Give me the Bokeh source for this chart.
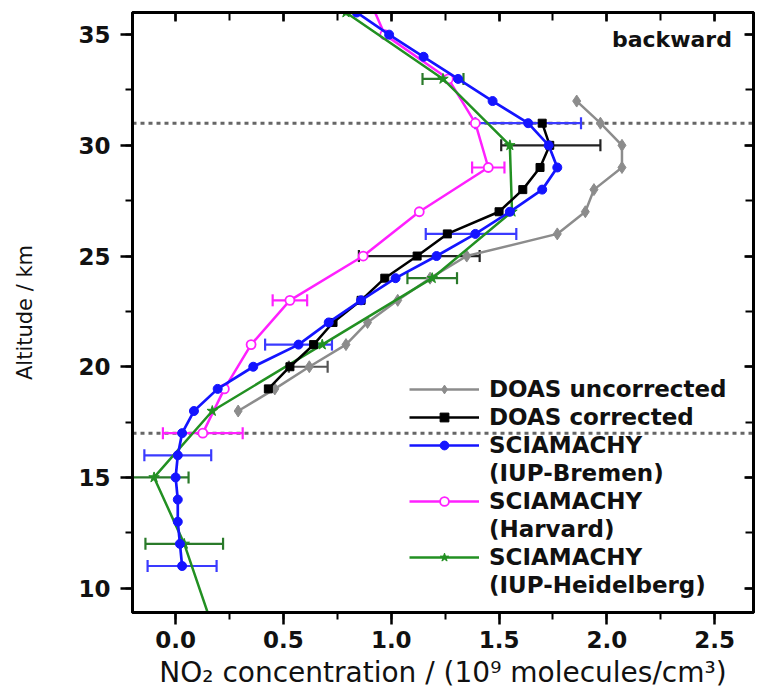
from bokeh.plotting import figure
from bokeh.models import (ColumnDataSource, Whisker, TeeHead, Span, Label, Legend, LegendItem,
                          LinearAxis, SingleIntervalTicker, NumeralTickFormatter,
                          CustomJSTickFormatter, Range1d)
from bokeh.embed import file_html
from bokeh.resources import INLINE

# ---------------- data ----------------
gray_alt = [18, 19, 20, 21, 22, 23, 24, 25, 26, 27, 28, 29, 30, 31, 32]
gray_no2 = [0.29, 0.46, 0.62, 0.79, 0.89, 1.03, 1.18, 1.35, 1.77, 1.90, 1.94, 2.07, 2.07, 1.97, 1.86]
gray_err_alt = [20]
gray_err_val = [0.615]
gray_err = [0.09]

black_alt = [19, 20, 21, 22, 23, 24, 25, 26, 27, 28, 29, 30, 31]
black_no2 = [0.43, 0.53, 0.64, 0.73, 0.86, 0.97, 1.12, 1.26, 1.50, 1.61, 1.69, 1.735, 1.70]
black_err_alt = [25, 30]
black_err_val = [1.13, 1.74]
black_err = [0.28, 0.23]

blue_alt = [11, 12, 13, 14, 15, 16, 17, 18, 19, 20, 21, 22, 23, 24, 25, 26, 27, 28, 29, 30,
            31, 32, 33, 34, 35, 36]
blue_no2 = [0.03, 0.02, 0.01, 0.01, 0.00, 0.01, 0.03, 0.085, 0.195, 0.36, 0.57, 0.71, 0.86,
            1.02, 1.21, 1.39, 1.55, 1.70, 1.77, 1.73, 1.635, 1.47, 1.31, 1.15, 0.99, 0.84]
blue_err_alt = [11, 16, 21, 26, 31]
blue_err_val = [0.03, 0.01, 0.57, 1.37, 1.635]
blue_err = [0.16, 0.155, 0.155, 0.21, 0.245]

mag_alt = [17, 19, 21, 23, 25, 27, 29, 31, 33, 35, 37]
mag_no2 = [0.126, 0.226, 0.35, 0.53, 0.87, 1.13, 1.45, 1.39, 1.265, 0.97, 0.88]
mag_err_alt = [17, 23, 29]
mag_err_val = [0.126, 0.53, 1.45]
mag_err = [0.185, 0.08, 0.075]

green_alt = [8, 12, 15, 18, 21, 24, 27, 30, 33, 36]
green_no2 = [0.18, 0.04, -0.10, 0.17, 0.68, 1.19, 1.56, 1.55, 1.24, 0.79]
green_err_alt = [12, 15, 24, 33]
green_err_val = [0.04, -0.10, 1.19, 1.24]
green_err = [0.18, 0.16, 0.115, 0.095]

ref_levels = [31, 17]

x_label = "NO\u2082 concentration / (10\u2079 molecules/cm\u00b3)"
y_label = "Altitude / km"
panel_text = "backward"

legend_labels = ["DOAS uncorrected", "DOAS corrected", "SCIAMACHY", "(IUP-Bremen)",
                 "SCIAMACHY", "(Harvard)", "SCIAMACHY", "(IUP-Heidelberg)"]

# ---------------- figure ----------------
FONT = "DejaVu Sans"

p = figure(width=760, height=696, x_range=Range1d(-0.2, 2.68), y_range=Range1d(8.9, 36.0),
           output_backend="svg", toolbar_location=None)
p.min_border_left = 132
p.min_border_right = 7
p.min_border_top = 12
p.min_border_bottom = 84
p.grid.visible = False
p.background_fill_color = "white"
p.border_fill_color = "white"
p.outline_line_color = "black"
p.outline_line_width = 3

xa = p.xaxis[0]
xa.ticker = SingleIntervalTicker(interval=0.5, num_minor_ticks=2)
xa.formatter = NumeralTickFormatter(format="0.0")
ya = p.yaxis[0]
ya.ticker = SingleIntervalTicker(interval=5, num_minor_ticks=2)

for ax in (xa, ya):
    ax.axis_line_width = 3
    ax.major_tick_line_width = 2.5
    ax.minor_tick_line_width = 2
    ax.major_tick_in = 0
    ax.minor_tick_in = 0
    ax.major_tick_out = 12
    ax.minor_tick_out = 7
    ax.major_label_text_font = FONT
    ax.major_label_text_font_style = "bold"
    ax.major_label_text_font_size = "23px"
    ax.major_label_text_color = "#111111"
    ax.axis_label_text_font = FONT
    ax.axis_label_text_font_style = "normal"
    ax.axis_label_text_color = "#111111"

xa.axis_label = x_label
xa.axis_label_text_font_size = "28px"
xa.major_label_standoff = 6
xa.axis_label_standoff = 5
ya.axis_label = y_label
ya.axis_label_text_font_size = "21px"
ya.major_label_standoff = 10
ya.axis_label_standoff = 38

top_ax = LinearAxis(ticker=SingleIntervalTicker(interval=0.5, num_minor_ticks=2),
                    formatter=CustomJSTickFormatter(code="return ''"))
right_ax = LinearAxis(ticker=SingleIntervalTicker(interval=5, num_minor_ticks=2),
                      formatter=CustomJSTickFormatter(code="return ''"))
for ax in (top_ax, right_ax):
    ax.axis_line_width = 3
    ax.major_tick_in = 9
    ax.major_tick_out = 0
    ax.minor_tick_in = 8
    ax.minor_tick_out = 0
    ax.major_tick_line_width = 2.5
    ax.minor_tick_line_width = 2
    ax.major_label_standoff = 0
    ax.major_label_text_color = None
    ax.major_label_text_font_size = "1px"
p.add_layout(top_ax, "above")
p.add_layout(right_ax, "right")

for lvl in ref_levels:
    p.add_layout(Span(location=lvl, dimension="width", line_color="#666666",
                      line_width=3, line_dash="4 4", level="underlay"))

# ---------------- series ----------------
def err_source(alt, val, err):
    return ColumnDataSource(dict(y=alt, lower=[v - e for v, e in zip(val, err)],
                                 upper=[v + e for v, e in zip(val, err)]))

def add_err(alt, val, err, color):
    src = err_source(alt, val, err)
    w = Whisker(source=src, base="y", lower="lower", upper="upper", dimension="width",
                line_color=color, line_width=2.2,
                lower_head=TeeHead(size=12, line_color=color, line_width=2.2),
                upper_head=TeeHead(size=12, line_color=color, line_width=2.2))
    p.add_layout(w)

GRAY = "#8c8c8c"
BLACK = "#000000"
BLUE = "#1414ff"
MAG = "#ff20ff"
GREEN = "#229022"

gl = p.line(gray_no2, gray_alt, line_color=GRAY, line_width=2.5)
gs = p.scatter(gray_no2, gray_alt, marker="diamond", size=12, fill_color=GRAY, line_color=GRAY)
add_err(gray_err_alt, gray_err_val, gray_err, "#555555")

ml = p.line(mag_no2, mag_alt, line_color=MAG, line_width=2.5)
ms = p.scatter(mag_no2, mag_alt, marker="circle", size=9, fill_color="white",
               line_color=MAG, line_width=1.8)
add_err(mag_err_alt, mag_err_val, mag_err, MAG)

grl = p.line(green_no2, green_alt, line_color=GREEN, line_width=2.5)
grs = p.scatter(green_no2, green_alt, marker="star", size=11, fill_color=GREEN, line_color=GREEN)
add_err(green_err_alt, green_err_val, green_err, "#2a7a2a")

bl = p.line(black_no2, black_alt, line_color=BLACK, line_width=2.5)
bs = p.scatter(black_no2, black_alt, marker="square", size=8, fill_color=BLACK, line_color=BLACK)
add_err(black_err_alt, black_err_val, black_err, "#222222")

ul = p.line(blue_no2, blue_alt, line_color=BLUE, line_width=2.7)
us = p.scatter(blue_no2, blue_alt, marker="circle", size=9, fill_color=BLUE, line_color=BLUE)
add_err(blue_err_alt, blue_err_val, blue_err, "#3a3aff")

# ---------------- legend ----------------
renderer_sets = [[gl, gs], [bl, bs], [ul, us], [], [ml, ms], [], [grl, grs], []]
items = [LegendItem(label=lab, renderers=rs) for lab, rs in zip(legend_labels, renderer_sets)]
legend = Legend(items=items, location=(277, 14), orientation="vertical",
                glyph_width=70, glyph_height=22, label_height=22, spacing=2,
                label_standoff=10, padding=0, margin=0,
                border_line_color=None, background_fill_alpha=0,
                label_text_font=FONT, label_text_font_style="bold",
                label_text_font_size="23px", label_text_color="#111111")
p.add_layout(legend)

p.add_layout(Label(x=2.58, y=34.77, text=panel_text, text_align="right",
                   text_baseline="middle", text_font=FONT, text_font_style="bold",
                   text_font_size="22px", text_color="#111111"))

open("out.html", "w").write(file_html(p, INLINE))
